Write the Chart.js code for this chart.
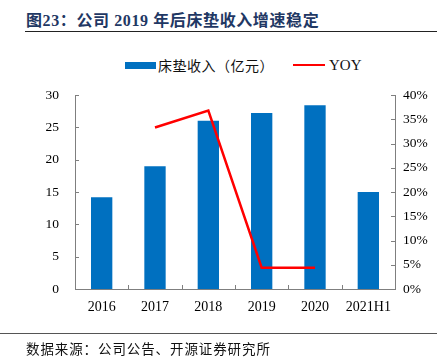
<!DOCTYPE html>
<html><head><meta charset="utf-8">
<script src="https://cdn.jsdelivr.net/npm/chart.js@4.4.1/dist/chart.umd.min.js"></script>
<style>
html,body{margin:0;padding:0;background:#fff;width:443px;height:359px;overflow:hidden;}
#wrap{position:relative;width:443px;height:359px;}
canvas{position:absolute;left:0;top:0;}
.title{position:absolute;left:26px;top:8px;font-family:"Liberation Serif","Noto Sans CJK SC",serif;font-weight:bold;font-size:16px;line-height:22px;color:#1F3864;letter-spacing:0.6px;white-space:nowrap;}
.title .cjk{font-family:"Noto Sans CJK SC",sans-serif;}
.rule1{position:absolute;left:25px;top:31px;width:412px;height:0;border-top:1.5px solid #222;}
.rule2{position:absolute;left:0px;top:333px;width:437px;height:0;border-top:1px solid #555;}
.src{position:absolute;left:26px;top:338px;font-family:"Noto Sans CJK SC",sans-serif;font-size:13.5px;line-height:20px;color:#111;letter-spacing:0.9px;white-space:nowrap;}
.legend{position:absolute;top:55px;left:0;width:443px;height:20px;font-size:14px;line-height:20px;color:#111;white-space:nowrap;}
.li{position:absolute;top:0;}
.sw{position:absolute;}
</style></head>
<body><div id="wrap">
<div class="title"><span class="cjk">图</span>23<span class="cjk">：公司</span> 2019 <span class="cjk">年后床垫收入增速稳定</span></div>
<div class="rule1"></div>
<div class="legend">
  <div class="sw" style="left:125px;top:7px;width:31px;height:7px;background:#0070C0;"></div>
  <div class="li" style="left:158px;font-family:'Noto Sans CJK SC',sans-serif;letter-spacing:0.5px;">床垫收入（亿元）</div>
  <div class="sw" style="left:293px;top:9px;width:32px;height:2px;background:#FF0000;"></div>
  <div class="li" style="left:329px;font-family:'Liberation Serif',serif;font-size:15px;">YOY</div>
</div>
<canvas id="c" width="443" height="359"></canvas>
<div class="rule2"></div>
<div class="src">数据来源：公司公告、开源证券研究所</div>
</div>
<script>
const categories = ["2016","2017","2018","2019","2020","2021H1"];
const revenue = [14.2, 19.0, 26.0, 27.2, 28.4, 15.0];
const yoy = [null, 33.3, 36.8, 4.4, 4.4, null];
const leftTicks = [0,5,10,15,20,25,30];
const rightTicks = [0,5,10,15,20,25,30,35,40];

const xFont = {family:"'Liberation Serif', serif", size:14};
const yFont = {family:"'Liberation Serif', serif", size:13.5};
const axisColor = '#7f7f7f';

const innerTicks = {
  id:'innerTicks',
  afterDatasetsDraw(chart){
    const ctx = chart.ctx;
    ctx.save();
    ctx.strokeStyle = axisColor;
    ctx.lineWidth = 1;
    const y = chart.scales.y, y2 = chart.scales.y2, x = chart.scales.x;
    ctx.beginPath();
    y.ticks.forEach(t=>{const p=Math.round(y.getPixelForValue(t.value))+0.5; ctx.moveTo(y.right, p); ctx.lineTo(y.right+4, p);});
    y2.ticks.forEach(t=>{const p=Math.round(y2.getPixelForValue(t.value))+0.5; ctx.moveTo(y2.left, p); ctx.lineTo(y2.left-4, p);});
    const n = categories.length;
    const w = (x.getPixelForValue(1)-x.getPixelForValue(0));
    for(let i=1;i<n;i++){const p=Math.round(x.getPixelForValue(i)-w/2)+0.5; ctx.moveTo(p, x.top); ctx.lineTo(p, x.top-4);}
    ctx.stroke();
    ctx.restore();
  }
};

new Chart(document.getElementById('c'), {
  data:{
    labels: categories,
    datasets:[
      {type:'line', label:'YOY', data: yoy, yAxisID:'y2', borderColor:'#FF0000', backgroundColor:'#FF0000', borderWidth:2.5, pointRadius:0, tension:0, spanGaps:false, order:0},
      {type:'bar', label:'床垫收入（亿元）', data: revenue, yAxisID:'y', backgroundColor:'#0070C0', borderWidth:0, barPercentage:0.4, categoryPercentage:1, order:1}
    ]
  },
  options:{
    responsive:false, animation:false, devicePixelRatio:1,
    layout:{padding:{left:0,right:0,top:95,bottom:40}},
    plugins:{legend:{display:false}, tooltip:{enabled:false}},
    scales:{
      x:{offset:true, grid:{display:false, drawTicks:false}, border:{display:true,color:axisColor,width:1},
         ticks:{font:xFont,color:'#000',padding:10,maxRotation:0,autoSkip:false},
         afterFit(s){s.height=30;}},
      y:{position:'left', min:0, max:30, afterBuildTicks(s){s.ticks=leftTicks.map(v=>({value:v}));},
         grid:{display:false, drawTicks:false}, border:{display:true,color:axisColor,width:1},
         ticks:{font:yFont,color:'#000',padding:16},
         afterFit(s){s.width=75;}},
      y2:{position:'right', min:0, max:40, afterBuildTicks(s){s.ticks=rightTicks.map(v=>({value:v}));},
         grid:{display:false, drawTicks:false}, border:{display:true,color:axisColor,width:1},
         ticks:{font:yFont,color:'#000',padding:8, callback:v=>v+'%'},
         afterFit(s){s.width=48;}}
    }
  },
  plugins:[innerTicks]
});
</script>
</body></html>
